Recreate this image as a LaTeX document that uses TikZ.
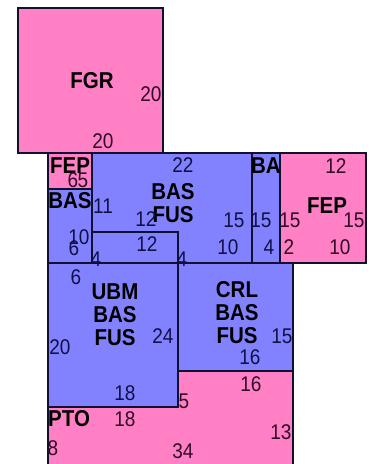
\documentclass[tikz,border=0pt]{standalone}
\usepackage{fontspec}
\usepackage{graphicx}
\setmainfont{Liberation Sans}
\definecolor{pinkfill}{RGB}{255,128,196}
\definecolor{bluefill}{RGB}{130,130,255}
\definecolor{edge}{RGB}{16,16,48}
\definecolor{pinktext}{RGB}{48,10,40}
\definecolor{bluetext}{RGB}{16,16,72}
\newcommand{\tl}[1]{\scalebox{1}[1.12]{#1}}
\tikzset{
  pinkbox/.style={fill=pinkfill,draw=edge,line width=1.4pt},
  bluebox/.style={fill=bluefill,draw=edge,line width=1.4pt},
  num/.style={inner sep=0pt,font=\fontsize{19}{19}\selectfont},
  pnum/.style={num,text=pinktext},
  bnum/.style={num,text=bluetext},
  lbl/.style={inner sep=0pt,align=center,text=black,font=\fontsize{20.5}{23}\selectfont\bfseries},
}
\begin{document}
\begin{tikzpicture}[x=1pt,y=-1pt]
\useasboundingbox (0,0) rectangle (378,464);
\begin{scope}
\clip (0,0) rectangle (378,464);
% boxes
\path[pinkbox] (18,8) rectangle (163,153);
\path[pinkbox] (48,153) rectangle (92,189);
\path[bluebox] (48,189) rectangle (92,263);
\path[bluebox] (92,153) rectangle (252,263);
\path[bluebox] (252,153) rectangle (280,263);
\path[pinkbox] (280,153) rectangle (366,263);
\path[bluebox] (92,232) rectangle (178,263);
\path[bluebox] (48,263) rectangle (178,407);
\path[bluebox] (178,263) rectangle (293,371);
\path[pinkbox] (48,407) -- (178,407) -- (178,371) -- (293,371) -- (293,470) -- (48,470) -- cycle;
\end{scope}
% FGR
\node[lbl] (fgr) at (92,81) {\tl{FGR}};
\node[pnum] (fgrR) at (151,94) {\tl{20}};
\node[pnum] (fgrB) at (103,141) {\tl{20}};
% FEP small
\node[lbl] (fep1) at (70,166) {\tl{FEP}};
\node[pnum] (fep1a) at (73,180) {\tl{6}};
\node[pnum] (fep1b) at (83,180) {\tl{5}};
% BAS small
\node[lbl] (bas1) at (70,201) {\tl{BAS}};
\node[bnum] (bas1a) at (79,237) {\tl{10}};
\node[bnum] (bas1b) at (74,248) {\tl{6}};
% big BAS FUS
\node[lbl] (basfus) at (173,203.5) {\tl{BAS}\\\tl{FUS}};
\node[bnum] (bfT) at (183,165) {\tl{22}};
\node[bnum] (bfL) at (103,206) {\tl{11}};
\node[bnum] (bfI) at (146,219) {\tl{12}};
\node[bnum] (bfR) at (234,220) {\tl{15}};
\node[bnum] (bfB) at (228,247) {\tl{10}};
% BA
\node[lbl] (ba) at (266,166) {\tl{BA}};
\node[bnum] (baL) at (261,220) {\tl{15}};
\node[bnum] (baB) at (269,247) {\tl{4}};
% FEP right
\node[lbl] (fep2) at (327,206) {\tl{FEP}};
\node[pnum] (fep2T) at (336,166) {\tl{12}};
\node[pnum] (fep2L) at (290,220) {\tl{15}};
\node[pnum] (fep2R) at (354,220) {\tl{15}};
\node[pnum] (fep2a) at (289,247) {\tl{2}};
\node[pnum] (fep2B) at (340,247) {\tl{10}};
% small 12x4
\node[bnum] (sT) at (147,244) {\tl{12}};
\node[bnum] (sL) at (96,259) {\tl{4}};
\node[bnum] (sR) at (182,259) {\tl{4}};
% UBM
\node[lbl] (ubm) at (115,315) {\tl{UBM}\\\tl{BAS}\\\tl{FUS}};
\node[bnum] (ubmT) at (76,277) {\tl{6}};
\node[bnum] (ubmL) at (60,347) {\tl{20}};
\node[bnum] (ubmR) at (163,336) {\tl{24}};
\node[bnum] (ubmB) at (125,393) {\tl{18}};
% CRL
\node[lbl] (crl) at (237,313) {\tl{CRL}\\\tl{BAS}\\\tl{FUS}};
\node[bnum] (crlR) at (282,336) {\tl{15}};
\node[bnum] (crlB) at (250,357) {\tl{16}};
% PTO
\node[lbl,anchor=west] (pto) at (48,419) {\tl{PTO}};
\node[pnum] (ptoT) at (251,384) {\tl{16}};
\node[pnum] (ptoI) at (184,401) {\tl{5}};
\node[pnum] (ptoL2) at (125,419) {\tl{18}};
\node[pnum] (ptoR) at (281,432) {\tl{13}};
\node[pnum] (ptoL) at (53,448) {\tl{8}};
\node[pnum] (ptoB) at (183,451) {\tl{34}};
\end{tikzpicture}
\end{document}
